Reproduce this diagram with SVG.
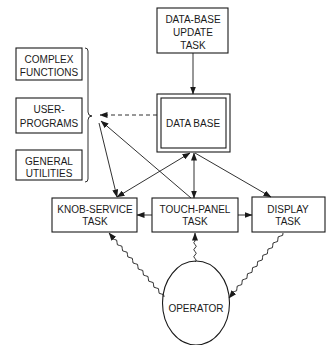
<svg xmlns="http://www.w3.org/2000/svg" width="328" height="345" viewBox="0 0 328 345">
<defs>
<marker id="ah" viewBox="0 0 8 6" refX="7.5" refY="3" markerWidth="8" markerHeight="6" markerUnits="userSpaceOnUse" orient="auto-start-reverse">
<path d="M0,0 L8,3 L0,6 z" fill="#1a1a1a"/>
</marker>
</defs>
<style>
.box{fill:none;stroke:#1a1a1a;stroke-width:1.1}
.t{font-family:"Liberation Sans",Arial,sans-serif;font-size:10px;fill:#1a1a1a;text-anchor:middle}
.c{fill:none;stroke:#1a1a1a;stroke-width:0.9}
.e{marker-end:url(#ah)}
.b{marker-start:url(#ah);marker-end:url(#ah)}
</style>
<rect width="328" height="345" fill="#fff"/>
<g id="update">
<rect class="box" x="157" y="8" width="71" height="45"/>
<text class="t" x="193" y="23">DATA-BASE</text>
<text class="t" x="193" y="36">UPDATE</text>
<text class="t" x="193" y="49">TASK</text>
</g>
<g id="complex">
<rect class="box" x="16" y="48" width="66" height="32"/>
<text class="t" x="49" y="63">COMPLEX</text>
<text class="t" x="49" y="76">FUNCTIONS</text>
</g>
<g id="user">
<rect class="box" x="16" y="98" width="66" height="35"/>
<text class="t" x="49" y="113">USER-</text>
<text class="t" x="49" y="127">PROGRAMS</text>
</g>
<g id="general">
<rect class="box" x="16" y="150" width="66" height="30"/>
<text class="t" x="49" y="165">GENERAL</text>
<text class="t" x="49" y="177">UTILITIES</text>
</g>
<g id="bracket">
<path class="c" d="M85 48 q3 0 3 3 L88 112 q0 4 4 4 q-4 0 -4 4 L88 179 q0 3 -3 3"/>
</g>
<g id="database">
<rect class="box" x="157" y="94" width="73" height="58"/>
<rect class="box" x="161" y="98" width="65" height="50"/>
<text class="t" x="193" y="127">DATA BASE</text>
</g>
<g id="knob">
<rect class="box" x="52" y="198" width="85" height="34"/>
<text class="t" x="95" y="213">KNOB-SERVICE</text>
<text class="t" x="95" y="225">TASK</text>
</g>
<g id="touch">
<rect class="box" x="152" y="198" width="86" height="34"/>
<text class="t" x="195" y="213">TOUCH-PANEL</text>
<text class="t" x="195" y="225">TASK</text>
</g>
<g id="display">
<rect class="box" x="252" y="197" width="73" height="35"/>
<text class="t" x="288" y="213">DISPLAY</text>
<text class="t" x="288" y="225">TASK</text>
</g>
<g id="operator">
<ellipse class="box" cx="196" cy="303" rx="33.5" ry="42"/>
<text class="t" x="196" y="312">OPERATOR</text>
</g>
<g id="connectors">
<path class="c e" d="M193 53 L193 94"/>
<path class="c e" d="M157 115 L100 115" stroke-dasharray="4 3"/>
<path class="c e" d="M99 123 L117 197"/>
<path class="c e" d="M191 198 L101 121"/>
<path class="c b" d="M190 153 L117 197"/>
<path class="c b" d="M194 153 L194 198"/>
<path class="c e" d="M195 153 L271 197"/>
<path class="c e" d="M152 215 L137 215"/>
<path class="c e" d="M238 215 L252 215"/>
<path class="c e" d="M164 297 q0.59 -3.15 -2.61 -3.03 t-2.61 -3.03 t-2.61 -3.03 t-2.61 -3.03 t-2.61 -3.03 t-2.61 -3.03 t-2.61 -3.03 t-2.61 -3.03 t-2.61 -3.03 t-2.61 -3.03 t-2.61 -3.03 t-2.61 -3.03 t-2.61 -3.03 t-2.61 -3.03 t-2.61 -3.03 t-2.61 -3.03 t-2.61 -3.03 t-2.61 -3.03 t-2.61 -3.03 t-2.61 -3.03 L109 233"/>
<path class="c e" d="M195 262 q2.5 -1.75 0 -3.5 t0 -3.5 t0 -3.5 t0 -3.5 t0 -3.5 t0 -3.5 L195 233"/>
<path class="c e" d="M283 233 q0.65 3.14 -2.56 3.08 t-2.56 3.08 t-2.56 3.08 t-2.56 3.08 t-2.56 3.08 t-2.56 3.08 t-2.56 3.08 t-2.56 3.08 t-2.56 3.08 t-2.56 3.08 t-2.56 3.08 t-2.56 3.08 t-2.56 3.08 t-2.56 3.08 t-2.56 3.08 t-2.56 3.08 t-2.56 3.08 t-2.56 3.08 t-2.56 3.08 t-2.56 3.08 L229 298"/>
</g>
</svg>
